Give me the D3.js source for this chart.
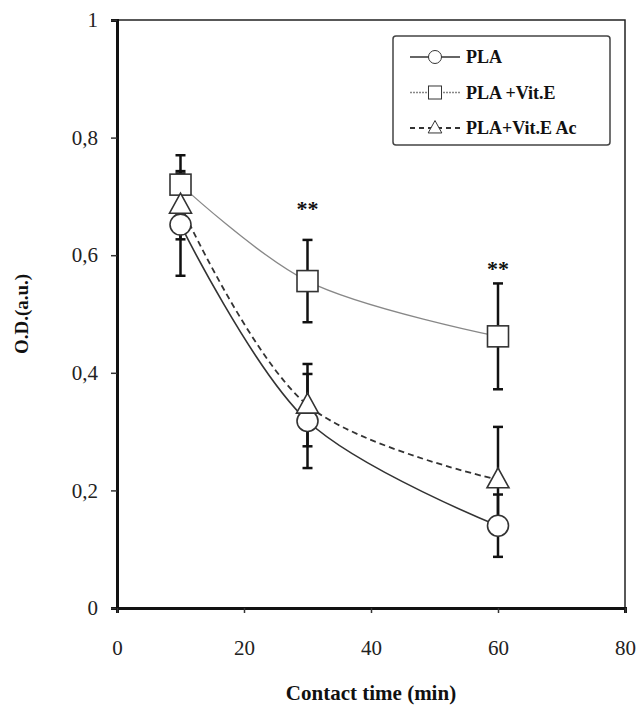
<!DOCTYPE html>
<html><head><meta charset="utf-8">
<script src="https://cdn.jsdelivr.net/npm/d3@7"></script>
<style>body{margin:0;background:#fff}svg{display:block}</style>
</head><body>
<script>
const times = [10, 30, 60];
const seriesNames = ["PLA", "PLA +Vit.E", "PLA+Vit.E Ac"];
const plaValues = [0.652, 0.318, 0.140];
const plaErrors = [0.087, 0.080, 0.053];
const vitEValues = [0.720, 0.556, 0.462];
const vitEErrors = [0.050, 0.070, 0.090];
const vitEAcValues = [0.685, 0.345, 0.218];
const vitEAcErrors = [0.058, 0.070, 0.090];
const xTicks = [0, 20, 40, 60, 80];
const yTicks = [0, 0.2, 0.4, 0.6, 0.8, 1];
const significance = [{t: 30, y: 0.68, label: "**"}, {t: 60, y: 0.578, label: "**"}];

const W = 636, H = 709;
const m = {left: 117, right: 11, top: 20, bottom: 101};
const svg = d3.select("body").append("svg").attr("width", W).attr("height", H);
const x = d3.scaleLinear().domain([0, 80]).range([m.left, W - m.right]);
const y = d3.scaleLinear().domain([0, 1]).range([H - m.bottom, m.top]);
const font = "'Liberation Serif','Times New Roman',serif";

// frame
svg.append("rect").attr("x", x(0)).attr("y", y(1)).attr("width", x(80) - x(0)).attr("height", y(0) - y(1))
  .attr("fill", "none").attr("stroke", "#222").attr("stroke-width", 1.5);

// axes
const yAxis = svg.append("g").attr("transform", `translate(${x(0)},0)`)
  .call(d3.axisLeft(y).tickValues(yTicks).tickSize(6).tickPadding(13)
    .tickFormat(d => d === 0 || d === 1 ? String(d) : d3.format(".1f")(d).replace(".", ",")));
const xAxis = svg.append("g").attr("transform", `translate(0,${y(0)})`)
  .call(d3.axisBottom(x).tickValues(xTicks).tickSize(5).tickPadding(27).tickFormat(d3.format("d")));
[yAxis, xAxis].forEach(g => {
  g.select(".domain").attr("stroke", "#111").attr("stroke-width", 3);
  g.selectAll(".tick line").attr("stroke", "#333").attr("stroke-width", 1.5);
  g.selectAll("text").attr("font-family", font).attr("font-size", 21).attr("fill", "#222");
});

// titles
svg.append("text").attr("transform", `translate(28,${(y(0) + y(1)) / 2}) rotate(-90)`)
  .attr("text-anchor", "middle").attr("font-family", font).attr("font-weight", "bold")
  .attr("font-size", 19).attr("fill", "#111").text("O.D.(a.u.)");
svg.append("text").attr("x", (x(0) + x(80)) / 2).attr("y", 700)
  .attr("text-anchor", "middle").attr("font-family", font).attr("font-weight", "bold")
  .attr("font-size", 21).attr("fill", "#111").text("Contact time (min)");

const series = [
  {name: seriesNames[0], values: plaValues, errors: plaErrors, marker: "circle", stroke: "#333", width: 1.6, dash: null},
  {name: seriesNames[1], values: vitEValues, errors: vitEErrors, marker: "square", stroke: "#888", width: 1.3, dash: null},
  {name: seriesNames[2], values: vitEAcValues, errors: vitEAcErrors, marker: "triangle", stroke: "#333", width: 1.8, dash: "6,4"}
];

const line = d3.line().x(d => x(d[0])).y(d => y(d[1])).curve(d3.curveCatmullRom.alpha(0.5));

function drawMarker(g, type, cx, cy) {
  const st = {fill: "#fff", stroke: "#333", sw: 1.6};
  let el;
  if (type === "circle") el = g.append("circle").attr("cx", cx).attr("cy", cy).attr("r", 10.5);
  else if (type === "square") el = g.append("rect").attr("x", cx - 10.5).attr("y", cy - 10.5).attr("width", 21).attr("height", 21);
  else el = g.append("path").attr("d", `M${cx},${cy - 12}L${cx + 11},${cy + 8}L${cx - 11},${cy + 8}Z`);
  el.attr("fill", st.fill).attr("stroke", st.stroke).attr("stroke-width", st.sw);
}

// error bars
const eg = svg.append("g");
series.forEach(s => {
  times.forEach((t, i) => {
    const lo = y(s.values[i] - s.errors[i]), hi = y(s.values[i] + s.errors[i]), cx = x(t);
    eg.append("line").attr("x1", cx).attr("x2", cx).attr("y1", lo).attr("y2", hi).attr("stroke", "#111").attr("stroke-width", 2.5);
    [lo, hi].forEach(v => eg.append("line").attr("x1", cx - 5).attr("x2", cx + 5).attr("y1", v).attr("y2", v).attr("stroke", "#111").attr("stroke-width", 2.5));
  });
});

// lines
series.forEach(s => {
  svg.append("path").datum(times.map((t, i) => [t, s.values[i]])).attr("d", line)
    .attr("fill", "none").attr("stroke", s.stroke).attr("stroke-width", s.width)
    .attr("stroke-dasharray", s.dash);
});

// markers
const mg = svg.append("g");
series.forEach(s => times.forEach((t, i) => drawMarker(mg, s.marker, x(t), y(s.values[i]))));

// significance
significance.forEach(d => svg.append("text").attr("x", x(d.t)).attr("y", y(d.y) + 8).attr("text-anchor", "middle")
  .attr("font-family", font).attr("font-weight", "bold").attr("font-size", 22).attr("fill", "#111").text(d.label));

// legend
const lg = svg.append("g");
lg.append("rect").attr("x", 393).attr("y", 36).attr("width", 217).attr("height", 109).attr("rx", 3)
  .attr("fill", "#fff").attr("stroke", "#444").attr("stroke-width", 1.5);
series.forEach((s, i) => {
  const ly = 57 + i * 35.5;
  lg.append("line").attr("x1", 410).attr("x2", 460).attr("y1", ly).attr("y2", ly)
    .attr("stroke", s.stroke).attr("stroke-width", s.width).attr("stroke-dasharray", i === 1 ? "2,1" : (s.dash ? "5,4" : null));
  const g = lg.append("g").attr("transform", `translate(435,${ly}) scale(0.62) translate(-435,${-ly})`);
  drawMarker(g, s.marker, 435, ly);
  lg.append("text").attr("x", 466).attr("y", ly + 6).attr("font-family", font).attr("font-weight", "bold")
    .attr("font-size", 18).attr("fill", "#111").text(s.name);
});
</script>
</body></html>
